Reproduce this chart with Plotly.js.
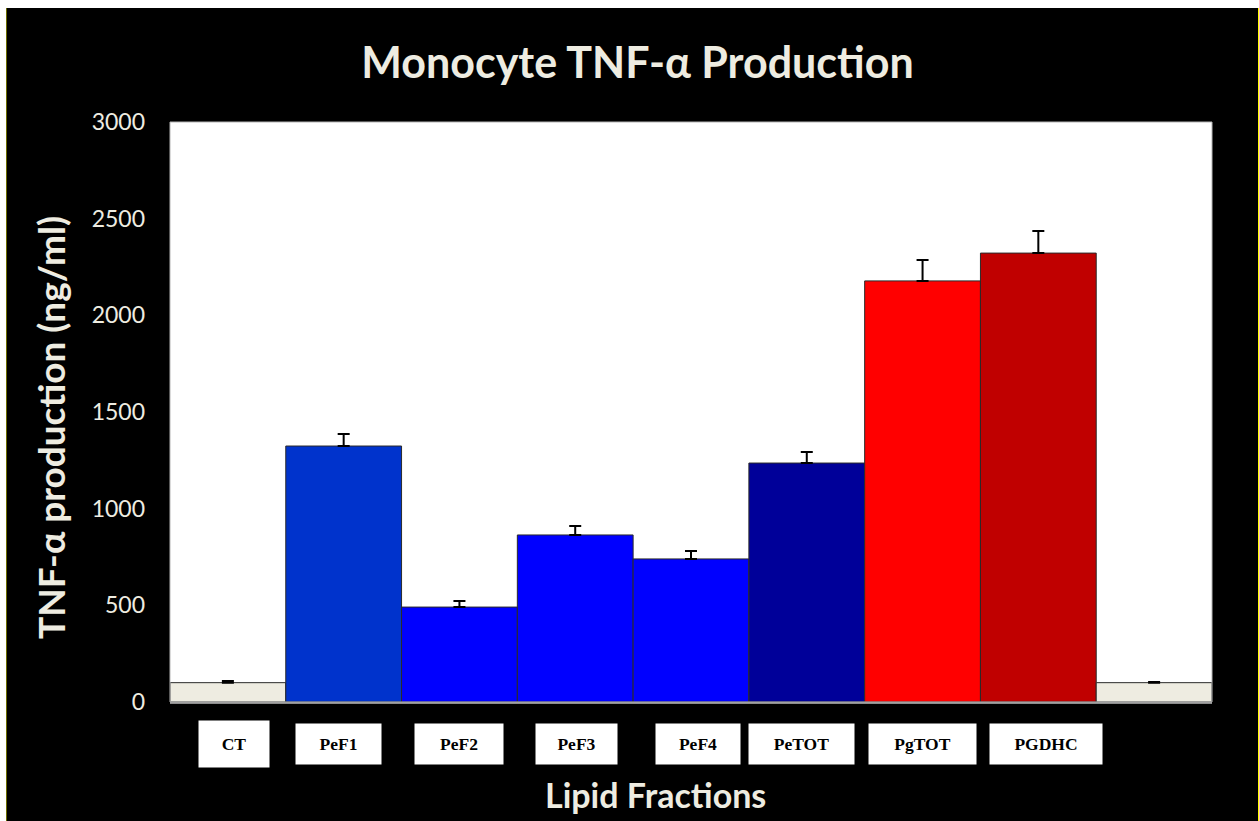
<!DOCTYPE html>
<html>
<head>
<meta charset="utf-8">
<script src="https://cdn.plot.ly/plotly-3.0.1.min.js"></script>
<style>
  html, body { margin: 0; padding: 0; background: #ffffff; width: 1259px; height: 821px; overflow: hidden; }
  #frame { position: absolute; left: 6px; top: 8px; width: 1251px; height: 813px;
           border-left: 1px solid #6b6b00; border-right: 1px solid #ffff00; background: #000; }
  #chart { width: 1251px; height: 813px; }
</style>
</head>
<body>
<div id="frame"><div id="chart"></div></div>
<script>
// ---- data ----
const categories = ['CT', 'PeF1', 'PeF2', 'PeF3', 'PeF4', 'PeTOT', 'PgTOT', 'PGDHC', ''];
const tnfValues  = [100, 1324, 491, 864, 740, 1236, 2178, 2322, 100];
const tnfErrors  = [8, 62, 31, 46, 41, 57, 108, 114, 4];
const yTickVals  = [0, 500, 1000, 1500, 2000, 2500, 3000];
const titleText  = 'Monocyte TNF-α Production';
const xTitleText = 'Lipid Fractions';
const yTitleText = 'TNF-α production (ng/ml)';

// ---- styling (not data) ----
const barColors = ['#EEECE1', '#0033CC', '#0000FF', '#0000FF', '#0000FF', '#000099', '#FF0000', '#C00000', '#EEECE1'];
const labelShift = [6, -5, 0, 1, 7, -5, 0, 8, 0];
const labelWidth = [70, 85, 88, 81, 84, 105, 107, 112, 0];
const labelHeight = [46, 40, 40, 40, 40, 40, 40, 40, 40];
const cream = '#EEECE1';
const sans = 'Lato, Open Sans, sans-serif';

const idx = categories.map((c, i) => i);

const trace = {
  type: 'bar',
  x: idx,
  y: tnfValues,
  marker: { color: barColors, line: { color: '#2a2a2a', width: 1 } },
  error_y: {
    type: 'data', symmetric: false, array: tnfErrors,
    arrayminus: tnfErrors.map(() => 0),
    color: '#000000', thickness: 2, width: 6
  },
  hoverinfo: 'skip'
};

const annotations = [];
categories.forEach((c, i) => {
  if (!c) return;
  annotations.push({
    x: i, xref: 'x', y: -0.0725, yref: 'paper', yanchor: 'middle', xanchor: 'center',
    xshift: labelShift[i],
    text: '<b>' + c + '</b>', showarrow: false,
    bgcolor: '#ffffff', borderpad: 0, width: labelWidth[i], height: labelHeight[i],
    font: { family: 'Liberation Serif, Times New Roman, serif', size: 17.5, color: '#000000' }
  });
});
// axis titles as annotations for exact placement
annotations.push({
  x: 0, xref: 'paper', xshift: -120, xanchor: 'center',
  y: 0.4724, yref: 'paper', yanchor: 'middle', textangle: -90, showarrow: false,
  text: '<b>' + yTitleText + '</b>',
  font: { family: sans, size: 37, color: cream }
});
annotations.push({
  x: 0, xref: 'paper', xshift: 485, xanchor: 'center',
  y: -0.160, yref: 'paper', yanchor: 'middle', showarrow: false,
  text: '<b>' + xTitleText + '</b>',
  font: { family: sans, size: 34, color: cream }
});

const layout = {
  width: 1251, height: 813,
  paper_bgcolor: '#000000', plot_bgcolor: '#ffffff',
  margin: { l: 163, r: 46, t: 114, b: 119 },
  bargap: 0,
  showlegend: false,
  title: {
    text: '<b>' + titleText + '</b>',
    font: { family: sans, size: 43, color: cream },
    x: 0.504, xref: 'container', xanchor: 'center', y: 0.933, yref: 'container', yanchor: 'middle'
  },
  xaxis: {
    range: [-0.5, 8.5], showticklabels: false, ticks: '', showgrid: false, zeroline: false,
    showline: true, linecolor: '#8c8c8c', linewidth: 2, mirror: false,
    fixedrange: true
  },
  yaxis: {
    range: [0, 3000], tickvals: yTickVals, ticktext: yTickVals.map(String),
    showgrid: false, zeroline: false, ticks: '', ticklabelstandoff: 24,
    showline: false,
    tickfont: { family: sans, size: 23, color: cream },
    fixedrange: true
  },
  shapes: [
    { type: 'rect', xref: 'paper', yref: 'paper', x0: 0, x1: 1, y0: 0, y1: 1,
      line: { color: '#b5b5b5', width: 1 }, fillcolor: 'rgba(0,0,0,0)', layer: 'above' }
  ],
  annotations: annotations
};

Plotly.newPlot('chart', [trace], layout, { displayModeBar: false, staticPlot: true });
</script>
</body>
</html>
